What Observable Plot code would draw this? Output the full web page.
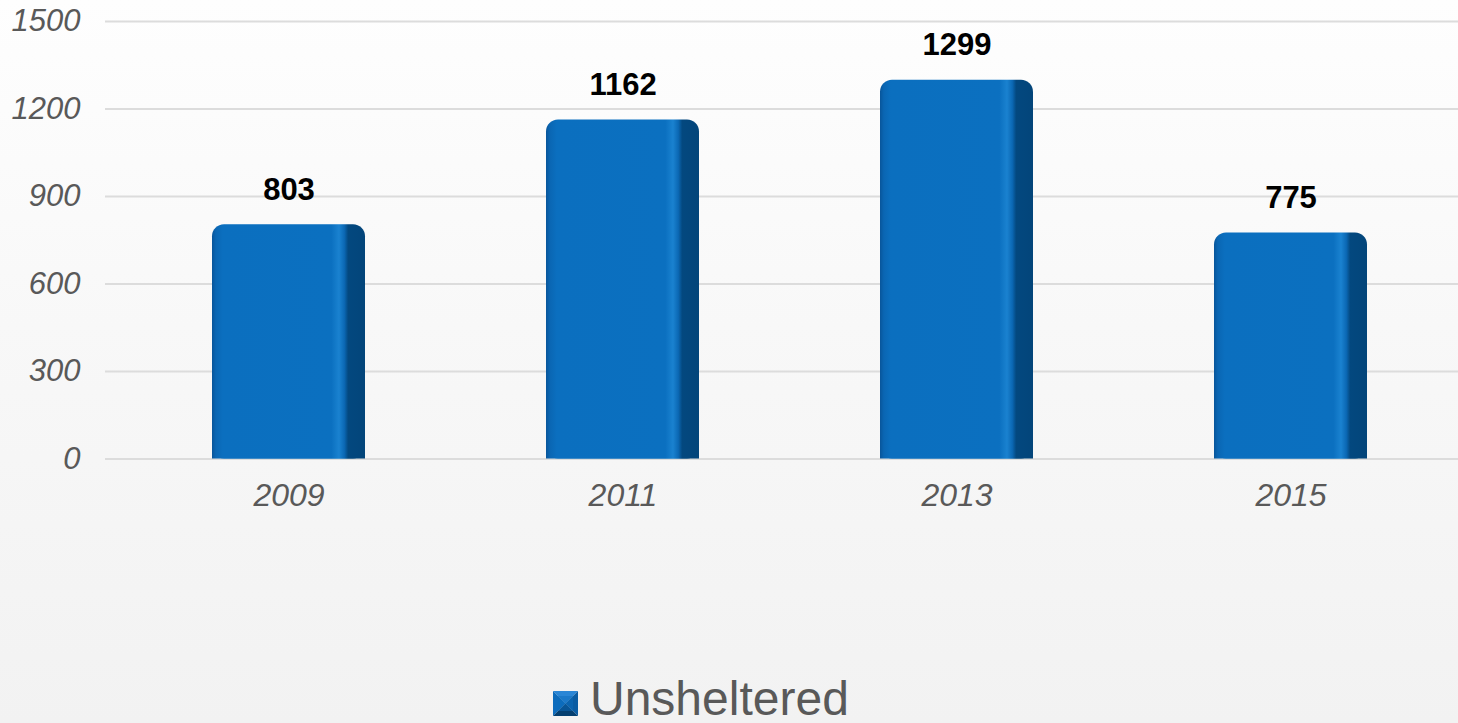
<!DOCTYPE html>
<html>
<head>
<meta charset="utf-8">
<script src="https://cdn.jsdelivr.net/npm/d3@7"></script>
<script src="https://cdn.jsdelivr.net/npm/@observablehq/plot@0.6"></script>
<style>
  html, body { margin: 0; padding: 0; }
  body {
    width: 1458px; height: 723px; overflow: hidden; position: relative;
    background: linear-gradient(to bottom, #fefefe 0%, #f8f8f8 45%, #f2f2f2 100%);
    font-family: "Liberation Sans", Arial, sans-serif;
  }
  #chart { position: absolute; left: 0; top: 0; }
  #legend { position: absolute; left: 553px; top: 675px; }
  #legend svg { position: absolute; left: 0; top: 16px; }
  #legend span { position: absolute; left: 37px; top: 0; font-size: 48px; line-height: 48px; color: #595959; white-space: nowrap; }
</style>
</head>
<body>
<div id="chart"></div>
<div id="legend">
  <svg width="25" height="25" viewBox="0 0 25 25">
    <polygon points="0,0 25,0 12.5,12.5" fill="#2a86d6"/>
    <polygon points="0,0 12.5,12.5 0,25" fill="#0d6cbd"/>
    <polygon points="25,0 25,25 12.5,12.5" fill="#0a5ca3"/>
    <polygon points="0,25 25,25 12.5,12.5" fill="#043f70"/>
    <rect x="5" y="5" width="15" height="15" fill="#0b6cbb" opacity="0.5"/>
  </svg>
  <span>Unsheltered</span>
</div>
<script>
const years = ["2009", "2011", "2013", "2015"];
const unsheltered = [803, 1162, 1299, 775];
const yTicks = [0, 300, 600, 900, 1200, 1500];
const seriesName = "Unsheltered";

const data = years.map((year, i) => ({year, value: unsheltered[i]}));

const defs = () => {
  const d = d3.create("svg:defs");
  const g = d.append("linearGradient").attr("id", "barGrad").attr("x1", "0").attr("x2", "1").attr("y1", "0").attr("y2", "0");
  [
    [0, "#08559a"], [0.025, "#0a66b3"], [0.07, "#0b6fbf"], [0.78, "#0b70c0"],
    [0.83, "#1a82d0"], [0.865, "#0b68b4"], [0.89, "#03487f"], [1, "#03457a"]
  ].forEach(([o, c]) => g.append("stop").attr("offset", o).attr("stop-color", c));
  return d.node();
};

const chart = Plot.plot({
  width: 1458,
  height: 640,
  marginTop: 21,
  marginBottom: 181.5,
  marginLeft: 105,
  marginRight: 0,
  style: {background: "transparent", fontFamily: "'Liberation Sans', Arial, sans-serif", overflow: "visible"},
  x: {domain: years, range: [120.7, 1458], paddingInner: 0.542, paddingOuter: 0.27, label: null},
  y: {domain: [0, 1500], label: null},
  marks: [
    defs,
    Plot.ruleY(yTicks, {stroke: "#dcdcdc", strokeWidth: 2}),
    Plot.barY(data, {x: "year", y: "value", fill: "url(#barGrad)", rx: 12}),
    Plot.barY(data, {x: "year", y1: 0, y2: d => d.value / 2, fill: "url(#barGrad)"}),
    Plot.text(data, {x: "year", y: "value", text: d => String(d.value), dy: -25, lineAnchor: "bottom",
      fontSize: 31, fontWeight: "bold", fill: "#000"}),
    Plot.axisY(yTicks, {tickSize: 0, tickPadding: 25, tickFormat: d => String(d), fontSize: 31, fontStyle: "italic", fill: "#595959", label: null}),
    Plot.axisX({tickSize: 0, tickPadding: 24, fontSize: 32, fontStyle: "italic", fill: "#595959", label: null})
  ]
});
document.getElementById("chart").appendChild(chart);
</script>
</body>
</html>
